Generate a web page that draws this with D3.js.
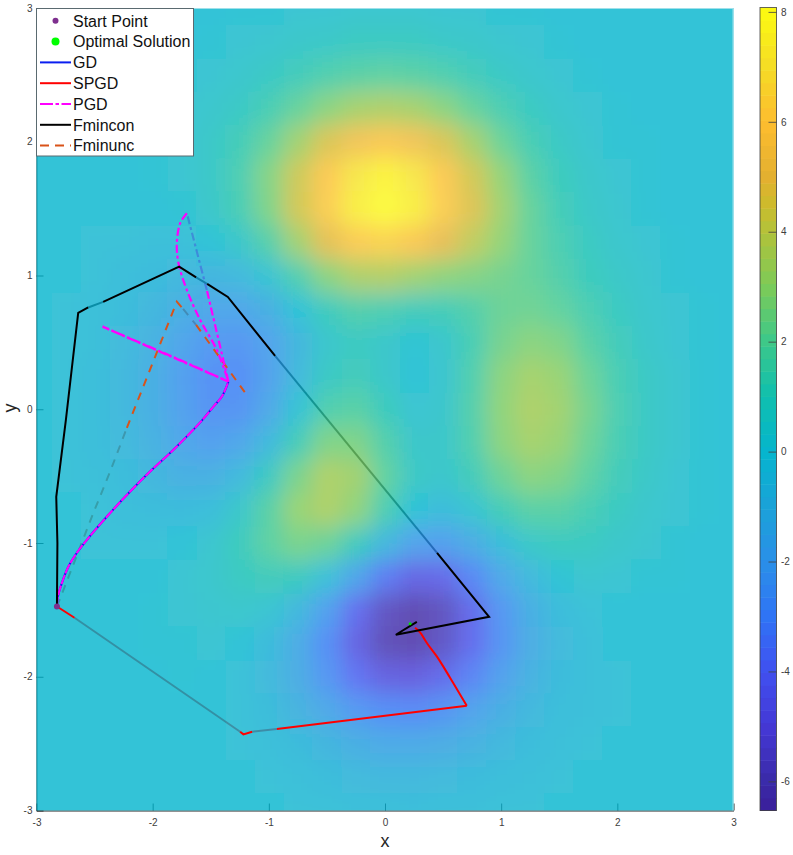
<!DOCTYPE html>
<meta charset="utf-8">
<script src="https://d3js.org/d3.v7.min.js"></script>
<style>
  body { margin: 0; background: #fff; }
  text { font-family: "Liberation Sans", Arial, sans-serif; }
</style>
<div id="my_dataviz"></div>

<script>
  // surface values, rows from y=3 down to y=-3, columns x=-3 to x=3
  var gridX = [-3,-2.75,-2.5,-2.25,-2,-1.75,-1.5,-1.25,-1,-.75,-.5,-.25,0,.25,.5,.75,1,1.25,1.5,1.75,2,2.25,2.5,2.75,3];
  var gridY = [3,2.75,2.5,2.25,2,1.75,1.5,1.25,1,.75,.5,.25,0,-.25,-.5,-.75,-1,-1.25,-1.5,-1.75,-2,-2.25,-2.5,-2.75,-3];
  var surface = [
    [0,0,0,0,0,0,0,.1,.1,.2,.2,.3,.3,.3,.2,.2,.1,.1,0,0,0,0,0,0,0],
    [0,0,0,0,0,0,.1,.2,.3,.5,.6,.8,.8,.8,.6,.5,.3,.2,.1,0,0,0,0,0,0],
    [0,0,0,0,0,.1,.2,.4,.7,1.1,1.5,1.8,1.9,1.8,1.5,1.1,.7,.4,.2,.1,0,0,0,0,0],
    [0,0,0,0,.1,.2,.4,.7,1.3,2.1,2.8,3.4,3.6,3.4,2.8,2.1,1.4,.8,.4,.2,.1,0,0,0,0],
    [0,0,0,0,.1,.2,.6,1.2,2.1,3.3,4.6,5.5,5.9,5.5,4.6,3.4,2.2,1.3,.7,.3,.1,.1,0,0,0],
    [0,0,0,0,.1,.2,.6,1.4,2.7,4.3,6,7.2,7.7,7.2,6,4.4,3,1.8,1,.5,.2,.1,0,0,0],
    [0,0,0,0,0,.1,.5,1.3,2.6,4.4,6.2,7.5,8,7.5,6.2,4.7,3.3,2.1,1.2,.6,.3,.1,0,0,0],
    [0,0,-.1,-.1,-.2,-.2,0,.5,1.7,3.3,4.9,6.1,6.4,5.9,5,4,3,2.1,1.4,.8,.4,.2,.1,0,0],
    [0,0,-.1,-.3,-.5,-.7,-.9,-.6,.2,1.5,2.8,3.6,3.7,3.3,2.9,2.7,2.4,2.1,1.6,1,.6,.3,.1,0,0],
    [0,-.1,-.2,-.4,-.8,-1.3,-1.8,-1.8,-1.2,0,1,1.6,1.4,1.1,1.2,1.6,2.2,2.3,2,1.4,.8,.4,.2,.1,0],
    [0,-.1,-.2,-.6,-1.1,-1.9,-2.5,-2.6,-2,-.8,.4,.8,.5,.1,.4,1.3,2.4,2.8,2.6,1.8,1.1,.5,.2,.1,0],
    [0,-.1,-.3,-.7,-1.3,-2.2,-2.9,-3,-2.1,-.6,.7,1.1,.5,0,.3,1.5,2.8,3.4,3.1,2.2,1.3,.7,.3,.1,0],
    [0,-.1,-.3,-.7,-1.3,-2.1,-2.8,-2.7,-1.7,.1,1.5,1.8,1,.2,.4,1.6,2.9,3.6,3.3,2.4,1.4,.7,.3,.1,0],
    [0,-.1,-.3,-.6,-1.1,-1.8,-2.2,-1.8,-.6,1.2,2.6,2.6,1.6,.5,.5,1.5,2.8,3.4,3.1,2.2,1.3,.7,.3,.1,0],
    [0,-.1,-.2,-.4,-.8,-1.2,-1.2,-.6,.8,2.5,3.6,3.3,2,.7,.4,1.1,2.2,2.8,2.6,1.9,1.1,.6,.2,.1,0],
    [0,0,-.1,-.3,-.4,-.5,-.3,.5,1.8,3.1,3.6,2.9,1.4,0,-.4,.2,1.2,1.8,1.8,1.3,.8,.4,.2,.1,0],
    [0,0,-.1,-.1,-.1,0,.3,1,1.9,2.5,2.2,1,-.7,-2,-2.2,-1.4,-.3,.6,.9,.8,.5,.3,.1,0,0],
    [0,0,0,0,0,.2,.4,.8,1.1,.9,-.1,-1.9,-3.6,-4.6,-4.4,-3.2,-1.7,-.6,.1,.3,.2,.1,.1,0,0],
    [0,0,0,0,.1,.2,.3,.4,.2,-.7,-2.2,-4.1,-5.7,-6.3,-5.8,-4.3,-2.6,-1.3,-.4,-.1,0,0,0,0,0],
    [0,0,0,0,.1,.1,.2,0,-.5,-1.5,-3,-4.7,-6,-6.3,-5.6,-4.2,-2.7,-1.4,-.6,-.2,0,0,0,0,0],
    [0,0,0,0,0,.1,0,-.1,-.6,-1.4,-2.6,-3.9,-4.8,-4.9,-4.3,-3.3,-2.1,-1.1,-.5,-.2,-.1,0,0,0,0],
    [0,0,0,0,0,0,0,-.1,-.4,-1,-1.7,-2.5,-3,-3.1,-2.7,-2,-1.3,-.7,-.3,-.2,-.1,0,0,0,0],
    [0,0,0,0,0,0,0,-.1,-.2,-.5,-.9,-1.3,-1.6,-1.6,-1.4,-1.1,-.7,-.4,-.2,-.1,0,0,0,0,0],
    [0,0,0,0,0,0,0,0,-.1,-.2,-.4,-.6,-.7,-.7,-.6,-.5,-.3,-.2,-.1,0,0,0,0,0,0],
    [0,0,0,0,0,0,0,0,0,-.1,-.1,-.2,-.2,-.3,-.2,-.2,-.1,-.1,0,0,0,0,0,0,0]
  ];

  // colormap stops
  var colorStops = [-6.53,-6,-5,-4,-3,-2,-1,0,1,2,3,4,4.5,5,6,7,8.08];
  var colorValues = ["#3a1f9a","#3a2aa8","#4438d5","#4050f0","#2f74f5","#2a8fe8","#1aa2d8","#05b5ce","#0fbfae","#3cc88a","#7ccb58","#b2c23a","#cdbb2c","#e3b030","#fdbd2f","#f5dc25","#fcfc10"];
  var barTicks = [-6,-4,-2,0,2,4,6,8];
  var axisTicks = [-3,-2,-1,0,1,2,3];

  // optimisation paths, segments listed in *Hidden run beneath the surface
  var startPoint = [-2.824,-1.475];
  var optimum = [.216,-1.604];

  var gdX = [-2.824,-2.816,-2.781,-2.725,-2.652,-2.552,-2.38,-2.194,-2.007,-1.821,-1.577,-1.477,-1.404,-1.348];
  var gdY = [-1.475,-1.4,-1.298,-1.176,-1.073,-.961,-.789,-.615,-.453,-.303,-.085,.02,.095,.207];

  var pgdX = gdX.slice();
  var pgdY = gdY.slice();
  var pgdRiseX = [-1.348,-1.534,-1.706];
  var pgdRiseY = [.207,.892,1.466];
  var pgdRiseHidden = [1];
  var pgdBackX = [-1.706,-1.763,-1.792,-1.778,-1.706,-1.591,-1.448,-1.348];
  var pgdBackY = [1.466,1.391,1.244,1.094,.892,.668,.444,.207];
  var pgdTailX = [-1.348,-2.432,-1.806,-1.348];
  var pgdTailY = [.207,.618,.384,.207];

  var spgdX = [-2.824,-2.673,-1.247,-1.219,-1.144,-.931,.704];
  var spgdY = [-1.475,-1.559,-2.411,-2.431,-2.411,-2.391,-2.217];
  var spgdHidden = [1,4];
  var spgdTailX = [.704,.56,.446,.365,.302,.259];
  var spgdTailY = [-2.217,-2.007,-1.848,-1.753,-1.669,-1.634];

  var fminconX = [-2.824,-2.82,-2.83,-2.747,-2.641,-2.555,-2.426,-1.772,-1.626,-1.531,-1.353,-.946,.448,.896,.093,.274];
  var fminconY = [-1.475,-1,-.655,-.079,.72,.761,.803,1.067,.986,.937,.84,.399,-1.073,-1.552,-1.686,-1.589];
  var fminconHidden = [5,8,11];

  var fminuncX = [-2.824,-2.667,-2.523,-2.366,-2.222,-1.978,-1.792,-1.738,-1.626,-1.195];
  var fminuncY = [-1.475,-1.126,-.802,-.466,-.139,.394,.805,.75,.631,.113];
  var fminuncHidden = [0,1,2,3,7];

  var legendLabels = ["Start Point","Optimal Solution","GD","SPGD","PGD","Fmincon","Fminunc"];

  // set the dimensions of the graph
  var width = 793,
    height = 855,
    left = 36.5,
    right = 733.5,
    top_ = 8,
    bottom = 810.5;

  var svg = d3.select("#my_dataviz")
    .append("svg")
    .attr("width", width)
    .attr("height", height)
    .style("display", "block");

  var x = d3.scaleLinear().domain([-3, 3]).range([left, right]);
  var y = d3.scaleLinear().domain([-3, 3]).range([bottom, top_]);
  var color = d3.scaleLinear().domain(colorStops).range(colorValues);

  // soft edges between the surface cells
  var defs = svg.append("defs");
  defs.append("filter")
    .attr("id", "soft")
    .attr("filterUnits", "userSpaceOnUse")
    .attr("x", 0).attr("y", -40).attr("width", width).attr("height", height + 60)
    .append("feGaussianBlur")
    .attr("stdDeviation", "10 11");
  defs.append("clipPath")
    .attr("id", "plotArea")
    .append("rect")
    .attr("x", left).attr("y", top_)
    .attr("width", right - left).attr("height", bottom - top_);

  // axes go first, the see-through surface sits on top of them
  function styleAxis(g) {
    g.selectAll(".domain").attr("stroke", "#262626");
    g.selectAll(".tick line").attr("stroke", "#262626");
    g.selectAll(".tick text").attr("fill", "#404040").style("font-size", "10px").style("font-family", "'Liberation Sans'");
  }
  svg.append("g")
    .attr("transform", "translate(0," + bottom + ")")
    .call(d3.axisBottom(x).tickValues(axisTicks).tickFormat(String).tickSizeInner(-7).tickSizeOuter(0).tickPadding(8))
    .call(styleAxis);
  svg.append("g")
    .attr("transform", "translate(" + left + ",0)")
    .call(d3.axisLeft(y).tickValues(axisTicks).tickFormat(String).tickSizeInner(-7).tickSizeOuter(0).tickPadding(4))
    .call(styleAxis);

  // the parts of the paths below the surface are drawn before it
  var underLayer = svg.append("g");

  var stepX = (x(1) - x(0)) / 4,
    stepY = (y(0) - y(1)) / 4;

  var surfaceLayer = svg.append("g")
    .attr("clip-path", "url(#plotArea)")
    .attr("opacity", 0.8)
    .append("g")
    .attr("filter", "url(#soft)");

  surfaceLayer.append("rect")
    .attr("x", left - 30).attr("y", top_ - 30)
    .attr("width", right - left + 60).attr("height", bottom - top_ + 60)
    .attr("fill", color(0));

  surfaceLayer.selectAll("g")
    .data(surface)
    .join("g")
    .selectAll("rect")
    .data(function (row, i) {
      return row.map(function (v, j) { return { x: gridX[j], y: gridY[i], v: v }; });
    })
    .join("rect")
    .attr("x", function (d) { return x(d.x) - stepX / 2; })
    .attr("y", function (d) { return y(d.y) - stepY / 2; })
    .attr("width", stepX + 0.5)
    .attr("height", stepY + 0.5)
    .attr("fill", function (d) { return color(d.v); });

  // thin light edge on the top and right of the box
  svg.append("path")
    .attr("d", "M" + left + "," + (top_ + 0.5) + "H" + (right - 0.5) + "V" + bottom)
    .attr("fill", "none")
    .attr("stroke", "#9fe0ea");

  // axis titles
  svg.append("text")
    .attr("x", 385).attr("y", 847)
    .attr("text-anchor", "middle")
    .attr("fill", "#262626")
    .style("font-size", "18px")
    .text("x");
  svg.append("text")
    .attr("transform", "translate(16,408) rotate(-90)")
    .attr("text-anchor", "middle")
    .attr("fill", "#262626")
    .style("font-size", "18px")
    .text("y");

  var overLayer = svg.append("g");
  var smooth = d3.curveCatmullRom.alpha(0.5);

  // draw a path run by run, hidden runs go under the surface
  function drawPath(xs, ys, hidden, stroke, strokeWidth, dash, curve) {
    var pts = xs.map(function (v, i) { return [x(v), y(ys[i])]; });
    var line = d3.line().curve(curve || d3.curveLinear);
    var runs = [], run = [pts[0]], state = hidden.indexOf(0) >= 0;
    for (var i = 0; i < pts.length - 1; i++) {
      var h = hidden.indexOf(i) >= 0;
      if (h !== state) {
        runs.push({ pts: run, hidden: state });
        run = [pts[i]];
        state = h;
      }
      run.push(pts[i + 1]);
    }
    runs.push({ pts: run, hidden: state });
    runs.forEach(function (r) {
      (r.hidden ? underLayer : overLayer).append("path")
        .attr("d", line(r.pts))
        .attr("fill", "none")
        .attr("stroke", stroke)
        .attr("stroke-width", strokeWidth)
        .attr("stroke-dasharray", dash);
    });
  }

  var blue = "#0a1ef0", red = "#ff0000", magenta = "#ff00ff", black = "#000000", orange = "#d95319";

  drawPath(fminuncX, fminuncY, fminuncHidden, orange, 2, "8 7");
  drawPath(gdX, gdY, [], blue, 2, null, smooth);
  drawPath(spgdX, spgdY, spgdHidden, red, 2, null);
  drawPath(spgdTailX, spgdTailY, [], red, 2, null, smooth);
  drawPath(pgdX, pgdY, [], magenta, 2, "10 1.5", smooth);
  drawPath(pgdRiseX, pgdRiseY, pgdRiseHidden, magenta, 2.2, "8 3 3 3");
  drawPath(pgdBackX, pgdBackY, [], magenta, 2.2, "8 3 3 3", smooth);
  drawPath(pgdTailX, pgdTailY, [], magenta, 2.4, "8 3 3 3");
  drawPath(fminconX, fminconY, fminconHidden, black, 2, null);

  overLayer.append("circle")
    .attr("cx", x(startPoint[0])).attr("cy", y(startPoint[1]))
    .attr("r", 3).attr("fill", "#7e2f8e");
  overLayer.append("circle")
    .attr("cx", x(optimum[0])).attr("cy", y(optimum[1]))
    .attr("r", 1.5).attr("fill", "#00e000");

  // legend
  var legend = svg.append("g");
  legend.append("rect")
    .attr("x", 36.5).attr("y", 8.5)
    .attr("width", 157).attr("height", 147.5)
    .attr("fill", "#fff")
    .attr("stroke", "#5a6a70");

  var legendRow = d3.scalePoint().domain(legendLabels).range([20.8, 145.6]);
  var legendKeys = [
    { fill: "#7e2f8e", r: 3 },
    { fill: "#00ff00", r: 4 },
    { stroke: blue, w: 2 },
    { stroke: red, w: 2 },
    { stroke: magenta, w: 2, dash: "13 2.5 3.5 2.5" },
    { stroke: black, w: 2 },
    { stroke: orange, w: 2, dash: "9 6" }
  ];
  var rows = legend.selectAll("g")
    .data(legendLabels)
    .join("g")
    .attr("transform", function (d) { return "translate(0," + legendRow(d) + ")"; });
  rows.append("text")
    .attr("x", 73).attr("y", 5.8)
    .attr("fill", "#111")
    .style("font-size", "16px")
    .text(function (d) { return d; });
  rows.each(function (d, i) {
    var k = legendKeys[i], g = d3.select(this);
    if (k.r) {
      g.append("circle").attr("cx", 55.5).attr("r", k.r).attr("fill", k.fill);
    } else {
      g.append("line").attr("x1", 40).attr("x2", 71)
        .attr("stroke", k.stroke).attr("stroke-width", k.w)
        .attr("stroke-dasharray", k.dash || null);
    }
  });

  // colorbar
  var barLeft = 760, barRight = 776.5;
  var barScale = d3.scaleLinear().domain([-6.53, 8.08]).range([810.5, 7.5]);
  var barStep = (8.08 + 6.53) / 64;
  var barLevels = d3.range(64).map(function (i) { return -6.53 + (i + 0.5) * barStep; });
  svg.append("g")
    .selectAll("rect")
    .data(barLevels)
    .join("rect")
    .attr("x", barLeft)
    .attr("y", function (d) { return barScale(d + barStep / 2); })
    .attr("width", barRight - barLeft)
    .attr("height", function (d) { return barScale(d - barStep / 2) - barScale(d + barStep / 2) + 0.5; })
    .attr("fill", function (d) { return color(d); });
  svg.append("rect")
    .attr("x", barLeft).attr("y", 7.5)
    .attr("width", barRight - barLeft).attr("height", 803)
    .attr("fill", "none")
    .attr("stroke", "#404040")
    .attr("stroke-opacity", 0.8);
  svg.append("g")
    .attr("transform", "translate(" + barRight + ",0)")
    .call(d3.axisRight(barScale).tickValues(barTicks).tickFormat(String).tickSizeInner(-8).tickSizeOuter(0).tickPadding(4.5))
    .call(function (g) {
      g.select(".domain").remove();
      g.selectAll(".tick line").attr("stroke", "#404040").attr("stroke-opacity", 0.8);
      g.selectAll(".tick text").attr("fill", "#404040").style("font-size", "10px").style("font-family", "'Liberation Sans'");
    });
</script>
